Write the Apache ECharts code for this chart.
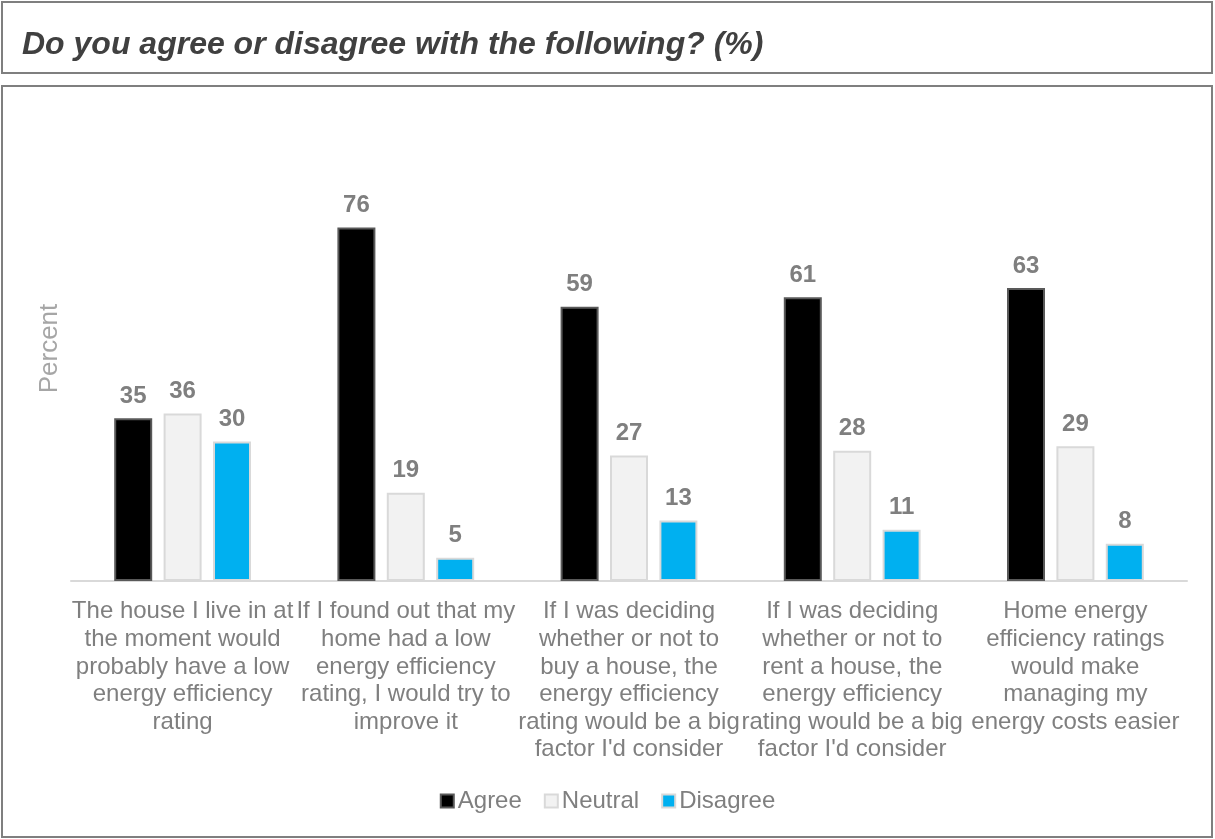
<!DOCTYPE html>
<html>
<head>
<meta charset="utf-8">
<script src="https://cdn.jsdelivr.net/npm/echarts@6/dist/echarts.min.js"></script>
<style>
  html, body { margin: 0; padding: 0; background: #ffffff; }
  #chart { width: 1215px; height: 839px; }
</style>
</head>
<body>
<div id="chart"></div>
<script>
// Survey statements (line breaks follow the label wrapping)
const categories = [
  "The house I live in at\nthe moment would\nprobably have a low\nenergy efficiency\nrating",
  "If I found out that my\nhome had a low\nenergy efficiency\nrating, I would try to\nimprove it",
  "If I was deciding\nwhether or not to\nbuy a house, the\nenergy efficiency\nrating would be a big\nfactor I'd consider",
  "If I was deciding\nwhether or not to\nrent a house, the\nenergy efficiency\nrating would be a big\nfactor I'd consider",
  "Home energy\nefficiency ratings\nwould make\nmanaging my\nenergy costs easier"
];
const agree    = [35, 76, 59, 61, 63];
const neutral  = [36, 19, 27, 28, 29];
const disagree = [30, 5, 13, 11, 8];

const FONT = "Liberation Sans, Arial, sans-serif";

const chart = echarts.init(document.getElementById('chart'), null, { renderer: 'canvas' });

const labelStyle = {
  show: true,
  position: 'top',
  distance: 10,
  color: '#7f7f7f',
  fontWeight: 'bold',
  fontSize: 24,
  fontFamily: FONT
};

function barSeries(name, data, fill, border) {
  return {
    name: name,
    type: 'bar',
    data: data,
    barWidth: 38,
    barGap: '30%',
    itemStyle: { color: fill, borderColor: border, borderWidth: 2 },
    label: labelStyle,
    emphasis: { disabled: true }
  };
}

chart.setOption({
  animation: false,
  backgroundColor: '#ffffff',
  graphic: [
    {
      type: 'rect',
      shape: { x: 2, y: 2, width: 1210, height: 71 },
      style: { fill: 'none', stroke: '#7f7f7f', lineWidth: 2 }
    },
    {
      type: 'rect',
      shape: { x: 2, y: 86, width: 1210, height: 751 },
      style: { fill: 'none', stroke: '#7f7f7f', lineWidth: 2 }
    },
    {
      type: 'text',
      left: 22,
      top: 29,
      style: {
        text: 'Do you agree or disagree with the following? (%)',
        fill: '#404040',
        font: 'italic bold 32px ' + FONT
      }
    }
  ],
  legend: {
    bottom: 21,
    left: 'center',
    itemWidth: 13,
    itemHeight: 13,
    itemGap: 22,
    icon: 'rect',
    textStyle: { color: '#7f7f7f', fontSize: 24, fontFamily: FONT, padding: [0, 0, 0, -1] },
    data: ['Agree', 'Neutral', 'Disagree']
  },
  grid: { left: 71, right: 28, top: 116, bottom: 258 },
  xAxis: {
    type: 'category',
    data: categories,
    axisLine: { lineStyle: { color: '#d9d9d9', width: 2 } },
    axisTick: { show: false },
    axisLabel: {
      interval: 0,
      color: '#7f7f7f',
      fontSize: 24,
      lineHeight: 27.6,
      fontFamily: FONT,
      margin: 17,
      align: 'center'
    }
  },
  yAxis: {
    type: 'value',
    min: 0,
    max: 100,
    name: 'Percent',
    nameLocation: 'middle',
    nameGap: 8,
    nameRotate: 90,
    nameTextStyle: { color: '#a6a6a6', fontSize: 26, fontFamily: FONT },
    axisLine: { show: false },
    axisTick: { show: false },
    axisLabel: { show: false },
    splitLine: { show: false }
  },
  series: [
    barSeries('Agree', agree, '#000000', '#595959'),
    barSeries('Neutral', neutral, '#f2f2f2', '#d9d9d9'),
    barSeries('Disagree', disagree, '#00b0f0', '#d9d9d9')
  ]
});
</script>
</body>
</html>
